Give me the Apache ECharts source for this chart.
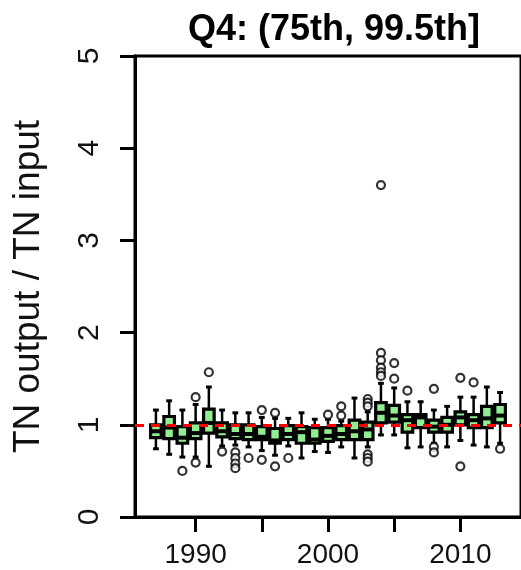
<!DOCTYPE html>
<html>
<head>
<meta charset="utf-8">
<script src="https://cdn.jsdelivr.net/npm/echarts@6/dist/echarts.min.js"></script>
<style>html,body{margin:0;padding:0;background:#fff;}#c{width:521px;height:570px;}</style>
</head>
<body>
<div id="c"></div>
<script>
// ---- data ----
const years       = [1987,1988,1989,1990,1991,1992,1993,1994,1995,1996,1997,1998,1999,2000,2001,2002,2003,2004,2005,2006,2007,2008,2009,2010,2011,2012,2013];
const whiskerLow  = [0.74,0.68,0.65,0.65,0.55,0.77,0.78,0.76,0.72,0.67,0.77,0.64,0.71,0.70,0.76,0.64,0.76,0.89,0.89,0.75,0.76,0.80,0.76,0.83,0.78,0.76,0.80];
const q1          = [0.86,0.85,0.80,0.85,0.91,0.87,0.85,0.84,0.84,0.80,0.84,0.80,0.80,0.82,0.84,0.84,0.84,1.02,1.03,0.92,0.97,0.92,0.92,1.00,0.97,0.97,1.02];
const medians     = [0.93,0.97,0.86,0.91,1.02,0.93,0.90,0.90,0.87,0.83,0.90,0.92,0.84,0.88,0.90,0.93,0.95,1.13,1.10,1.05,1.08,0.98,1.00,1.08,1.05,1.07,1.10];
const q3          = [1.00,1.09,0.98,1.02,1.17,1.02,1.00,1.00,0.98,0.96,0.99,0.98,0.97,0.97,0.99,1.05,1.03,1.24,1.21,1.11,1.11,1.05,1.08,1.14,1.11,1.20,1.22];
const whiskerHigh = [1.16,1.26,1.16,1.22,1.41,1.16,1.13,1.13,1.08,1.07,1.07,1.13,1.06,1.06,1.04,1.29,1.14,1.45,1.40,1.25,1.25,1.16,1.20,1.30,1.30,1.41,1.35];
const outlierYears  = [1989,1990,1990,1991,1992,1993,1993,1993,1993,1994,1995,1995,1996,1996,1997,2000,2001,2001,2003,2003,2003,2003,2003,2003,2004,2004,2004,2004,2004,2004,2005,2005,2006,2008,2008,2008,2010,2010,2011,2013];
const outlierValues = [0.50,1.30,0.59,1.57,0.71,0.70,0.64,0.58,0.53,0.64,1.16,0.62,1.13,0.55,0.64,1.11,1.20,1.10,1.28,1.24,1.20,0.68,0.64,0.60,3.60,1.78,1.70,1.62,1.57,1.53,1.67,1.50,1.37,1.39,0.76,0.70,1.51,0.55,1.46,0.74];
const xTicks = [1990,1995,2000,2005,2010];
const xLabels = ['1990','','2000','','2010'];
const refValue = 1;

const boxData = years.map((y,i)=>[y, whiskerLow[i], q1[i], medians[i], q3[i], whiskerHigh[i]]);
const outData = outlierYears.map((y,i)=>[y, outlierValues[i]]);

const FONT = '"Liberation Sans", Arial, Helvetica, sans-serif';

function renderBox(params, api){
  const x = api.value(0);
  const lo = api.coord([x, api.value(1)]);
  const b1 = api.coord([x, api.value(2)]);
  const md = api.coord([x, api.value(3)]);
  const b3 = api.coord([x, api.value(4)]);
  const hi = api.coord([x, api.value(5)]);
  const half = api.size([0.8, 0])[0] / 2;
  const staple = half * 0.55;
  const cx = lo[0];
  const ls = {stroke:'#000', lineWidth:2.5};
  return {
    type:'group',
    children:[
      {type:'line', shape:{x1:cx,y1:b3[1],x2:cx,y2:hi[1]}, style:ls},
      {type:'line', shape:{x1:cx,y1:b1[1],x2:cx,y2:lo[1]}, style:ls},
      {type:'line', shape:{x1:cx-staple,y1:hi[1],x2:cx+staple,y2:hi[1]}, style:{stroke:'#000',lineWidth:3}},
      {type:'line', shape:{x1:cx-staple,y1:lo[1],x2:cx+staple,y2:lo[1]}, style:{stroke:'#000',lineWidth:3}},
      {type:'rect', shape:{x:cx-half, y:b3[1], width:half*2, height:b1[1]-b3[1]}, style:{fill:'#90EE90', stroke:'#000', lineWidth:3.2}},
      {type:'line', shape:{x1:cx-half,y1:md[1],x2:cx+half,y2:md[1]}, style:{stroke:'#000',lineWidth:4}}
    ]
  };
}

const chart = echarts.init(document.getElementById('c'), null, {renderer:'canvas'});
chart.setOption({
  animation:false,
  backgroundColor:'#fff',
  title:{
    text:'Q4: (75th, 99.5th]',
    left:329, top:7, textAlign:'center',
    textStyle:{fontFamily:FONT, fontWeight:'bold', fontSize:36, color:'#000'}
  },
  grid:{left:135, top:56, width:387, height:461, show:true, borderColor:'#000', borderWidth:3, backgroundColor:'transparent'},
  xAxis:{
    type:'value', min:1985.42, max:2014.58,
    axisLine:{show:true, onZero:false, lineStyle:{color:'#000', width:3}},
    axisTick:{show:true, customValues:xTicks, length:15, lineStyle:{color:'#000', width:3}},
    axisLabel:{show:true, customValues:xTicks, hideOverlap:false, margin:24, fontFamily:FONT, fontSize:28, color:'#111',
      formatter:(v)=>{const i = xTicks.indexOf(Math.round(v)); return i>=0 ? xLabels[i] : '';}},
    splitLine:{show:false}
  },
  yAxis:{
    type:'value', min:0, max:5, interval:1,
    name:'TN output / TN input', nameLocation:'middle', nameRotate:90, nameGap:88,
    nameTextStyle:{fontFamily:FONT, fontSize:37, color:'#111'},
    axisLine:{show:true, lineStyle:{color:'#000', width:3}},
    axisTick:{show:true, length:15, lineStyle:{color:'#000', width:3}},
    axisLabel:{rotate:90, margin:30, fontFamily:FONT, fontSize:30, color:'#111'},
    splitLine:{show:false}
  },
  series:[
    {type:'custom', renderItem:renderBox, data:boxData, encode:{x:0, y:[1,2,3,4,5]}, z:2, clip:false},
    {type:'scatter', data:outData, symbol:'circle', symbolSize:8,
     itemStyle:{color:'#fff', borderColor:'#000', borderWidth:2.2}, z:3},
    {type:'line', data:[], z:5,
     markLine:{silent:true, symbol:['none','none'], label:{show:false},
       lineStyle:{color:'#ff0000', type:[9,7], width:3},
       data:[{yAxis:refValue}]}}
  ]
});
</script>
</body>
</html>
